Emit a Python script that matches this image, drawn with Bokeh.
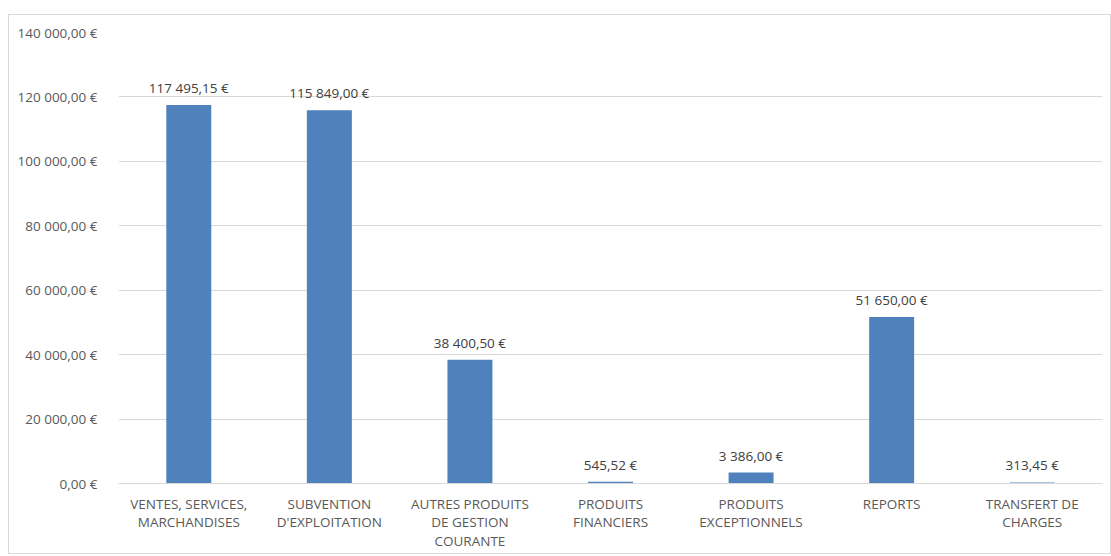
from bokeh.plotting import figure
from bokeh.models import ColumnDataSource, FixedTicker, Range1d, FactorRange, LabelSet
from bokeh.core.properties import value
from bokeh.embed import file_html
from bokeh.resources import INLINE

categories = ["VENTES, SERVICES,\nMARCHANDISES", "SUBVENTION\nD'EXPLOITATION",
              "AUTRES PRODUITS\nDE GESTION\nCOURANTE", "PRODUITS\nFINANCIERS",
              "PRODUITS\nEXCEPTIONNELS", "REPORTS", "TRANSFERT DE\nCHARGES"]
values = [117495.15, 115849.00, 38400.50, 545.52, 3386.00, 51650.00, 313.45]
yticks = [0, 20000, 40000, 60000, 80000, 100000, 120000, 140000]

def fmt(v):
    s = f"{v:,.2f}"
    ip, dp = s.split(".")
    return ip.replace(",", " ") + "," + dp + " €"

src = ColumnDataSource(dict(k=categories, v=values, t=[fmt(v) for v in values]))

FONT = "Open Sans"
FS = "13.5px"
p = figure(width=1103, height=540, x_range=FactorRange(*categories), y_range=Range1d(0, 140000),
           output_backend="svg", toolbar_location=None,
           min_border_left=109, min_border_right=10, min_border_top=17, min_border_bottom=72)
p.styles = {"border": "1px solid #d9d9d9", "margin-left": "8px", "margin-top": "14px"}
p.outline_line_color = None
p.vbar(x="k", top="v", width=0.32, source=src, color="#4F81BD", line_color=None)
p.add_layout(LabelSet(x="k", y="v", text="t", source=src, y_offset=8, text_align="center",
                      text_baseline="bottom", text_color="#404040", text_font_size=FS,
                      text_font=value(FONT)))

p.yaxis.ticker = FixedTicker(ticks=yticks)
p.yaxis.major_label_overrides = {t: fmt(t) for t in yticks}
p.yaxis.axis_line_color = None
p.yaxis.major_tick_line_color = None
p.yaxis.minor_tick_line_color = None
p.yaxis.major_label_standoff = 15
p.yaxis.major_label_text_color = "#595959"
p.yaxis.major_label_text_font = FONT
p.yaxis.major_label_text_font_size = FS

p.xaxis.axis_line_color = "#d9d9d9"
p.xaxis.major_tick_line_color = None
p.xaxis.minor_tick_line_color = None
p.xaxis.major_label_standoff = 5
p.xaxis.major_label_text_color = "#595959"
p.xaxis.major_label_text_font = FONT
p.xaxis.major_label_text_font_size = FS
p.xaxis.major_label_text_line_height = 1.05

p.xgrid.grid_line_color = None
p.ygrid.grid_line_color = "#d9d9d9"
p.x_range.range_padding = 0

open("out.html", "w").write(file_html(p, INLINE))
